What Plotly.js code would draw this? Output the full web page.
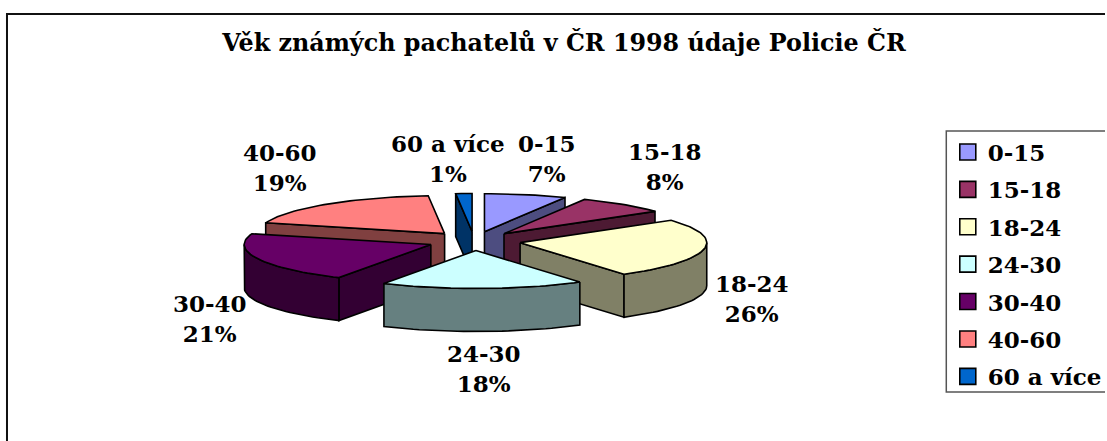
<!DOCTYPE html>
<html>
<head>
<meta charset="utf-8">
<script src="https://cdn.plot.ly/plotly-3.0.1.min.js"></script>
<style>html,body{margin:0;padding:0;background:#fff}#c{width:1107px;height:441px}</style>
</head>
<body>
<div id="c"></div>
<script>
const chartTitle = 'Věk známých pachatelů v ČR 1998 údaje Policie ČR';
const categories = ['0-15', '15-18', '18-24', '24-30', '30-40', '40-60', '60 a více'];
const values = [7.1, 7.9, 25.6, 17.6, 21.4, 19, 1.4];
const topColors = ['#9999FF', '#993366', '#FFFFCC', '#CCFFFF', '#660066', '#FF8080', '#0066CC'];
const sideColors = ['#4D4D80', '#4D1A33', '#808066', '#668080', '#330033', '#804040', '#003366'];
const drawOrder = [5, 0, 6, 1, 2, 4, 3];
const labelX = [548, 666, 753, 485, 210, 281, 449];
const labelY = [158, 166, 298, 368, 318, 167, 158];

const CX = 475, CY = 241, RX = 187, RY = 38, DEPTH = 43, EXPLODE = 0.25;
const SERIF = '"DejaVu Serif", serif';
const rad = d => d * Math.PI / 180;

const total = values.reduce((a, b) => a + b, 0);
let cum = 0;
const slices = values.map((v, i) => {
  const start = cum / total * 360;
  cum += v;
  const end = cum / total * 360;
  const mid = (start + end) / 2;
  return {
    i, start, end,
    ax: CX + EXPLODE * RX * Math.sin(rad(mid)),
    ay: CY - EXPLODE * RY * Math.cos(rad(mid))
  };
});

function rim(s, a) {
  return [s.ax + RX * Math.sin(rad(a)), s.ay - RY * Math.cos(rad(a))];
}
function arc(s, a, b) {
  const out = [];
  const n = Math.max(2, Math.ceil(Math.abs(b - a) / 2));
  for (let k = 0; k <= n; k++) out.push(rim(s, a + (b - a) * k / n));
  return out;
}
function face(pts, color, name) {
  const xs = pts.map(p => p[0]), ys = pts.map(p => p[1]);
  xs.push(xs[0]); ys.push(ys[0]);
  return {
    type: 'scatter', mode: 'lines', x: xs, y: ys, fill: 'toself', fillcolor: color,
    line: {color: '#000', width: 1.6}, showlegend: false, hoverinfo: 'skip', name
  };
}

const traces = [];
drawOrder.forEach(i => {
  const s = slices[i], side = sideColors[i], top = topColors[i], nm = categories[i];
  const wall = a => {
    const r = rim(s, a);
    return face([[s.ax, s.ay], r, [r[0], r[1] + DEPTH], [s.ax, s.ay + DEPTH]], side, nm + ' wall');
  };
  if (Math.sin(rad(s.start)) < 0) traces.push(wall(s.start));
  if (Math.sin(rad(s.end)) > 0) traces.push(wall(s.end));
  const a0 = Math.max(s.start, 90), a1 = Math.min(s.end, 270);
  if (a1 > a0) {
    const upper = arc(s, a0, a1);
    const lower = upper.slice().reverse().map(p => [p[0], p[1] + DEPTH]);
    traces.push(face(upper.concat(lower), side, nm + ' side'));
  }
  traces.push(face([[s.ax, s.ay]].concat(arc(s, s.start, s.end)), top, nm));
});

categories.forEach((c, i) => {
  traces.push({
    type: 'scatter', mode: 'markers', x: [null], y: [null], name: c, legendgroup: c,
    marker: {symbol: 'square', size: 16, color: topColors[i], line: {color: '#000', width: 1.6}},
    hoverinfo: 'skip'
  });
});

const annotations = categories.map((c, i) => ({
  x: labelX[i], y: labelY[i], xref: 'x', yref: 'y', showarrow: false,
  text: c + '<br>' + Math.round(values[i]) + '%', align: 'center',
  font: {family: SERIF, size: 23, color: '#000', weight: 'bold'}
}));

const layout = {
  width: 1107, height: 441, margin: {l: 0, r: 0, t: 0, b: 0},
  paper_bgcolor: '#fff', plot_bgcolor: '#fff',
  title: {text: chartTitle, x: 564 / 1107, xanchor: 'center', y: 1 - 43 / 441, yanchor: 'middle',
          font: {family: SERIF, size: 23.8, color: '#000', weight: 'bold'}},
  xaxis: {range: [0, 1107], visible: false, fixedrange: true},
  yaxis: {range: [441, 0], visible: false, fixedrange: true},
  shapes: [
    {type: 'rect', xref: 'x', yref: 'y', x0: 7, y0: 14, x1: 1120, y1: 460,
     line: {color: '#111', width: 2}, layer: 'below'},
    {type: 'rect', xref: 'x', yref: 'y', x0: 948, y0: 131, x1: 1120, y1: 392,
     line: {color: '#555', width: 1.5}, layer: 'below'}
  ],
  annotations,
  showlegend: true,
  legend: {x: 949.5 / 1107, xanchor: 'left', y: 1 - 130.5 / 441, yanchor: 'top',
           bgcolor: 'rgba(0,0,0,0)', borderwidth: 0,
           tracegroupgap: 4.5, traceorder: 'grouped',
           font: {family: SERIF, size: 23, color: '#000', weight: 'bold'}}
};
Plotly.newPlot('c', traces, layout, {displayModeBar: false, staticPlot: true});
</script>
</body>
</html>
